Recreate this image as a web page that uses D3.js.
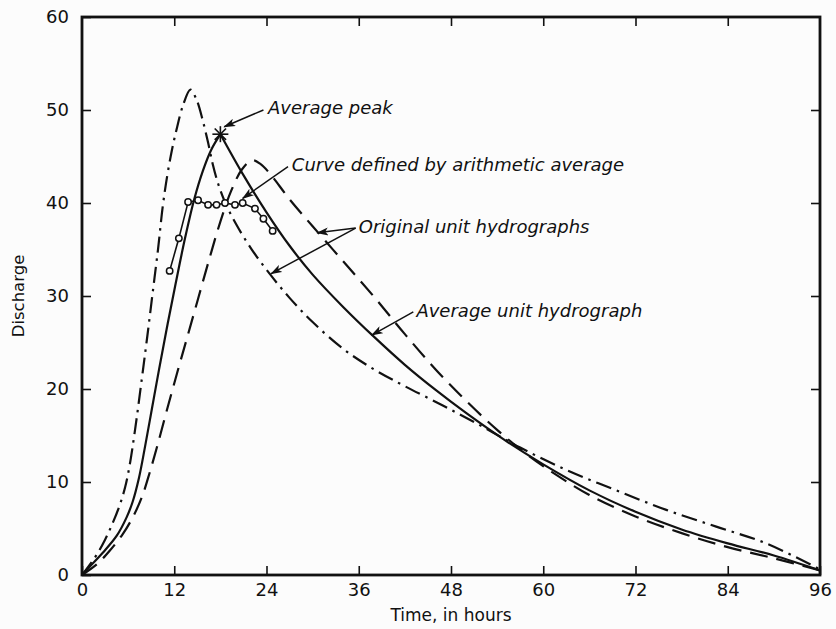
<!DOCTYPE html>
<html>
<head>
<meta charset="utf-8">
<script src="https://cdn.jsdelivr.net/npm/d3@7"></script>
<style>
  body { margin: 0; background: #fcfcfc; }
  svg { display: block; }
  text { fill: #111; }
</style>
</head>
<body>
<div id="chart"></div>
<script>
// time (hours) / discharge
const avgUnit = [[0,0],[1,0.9],[2.7,2.4],[4.5,4.2],[5.8,6.2],[6.6,7.9],[7.4,10.4],[8.2,13.8],[9.1,17.9],[10,22.0],[11,26.4],[12.1,31],
  [13.4,36.2],[14.6,40.4],[15.7,43.4],[16.8,45.7],[18,47.4],
  [21,43.0],[24,39.0],[27,35.4],[30,32.3],[34,28.8],[38,25.6],[42,22.6],[46,19.9],[50,17.4],[55,14.5],[60,11.9],[66,9.1],[72,6.8],
  [78,4.9],[84,3.4],[90,2.1],[96,0.5]];

const origA = [[0,0],[1.7,1.9],[3,3.8],[4,5.6],[4.9,7.5],[5.6,9.4],[6.2,11.8],[6.9,15.6],[7.8,21.2],[8.5,25.7],[9.2,30.4],[9.9,35.1],[10.5,39.6],
  [11.1,43.0],[11.7,45.7],[12.3,47.9],[13.1,50.4],[14.1,52.2],
  [14.9,51.1],[15.7,48.9],[16.4,46.5],[17,44.2],[17.7,42.1],[18.6,40.1],[20,37.8],[22,35.1],[24.4,32.4],[27,29.8],[30,27.2],[34,24.3],
  [38,22.1],[42,20.3],[47,18.2],[52,16.0],[57,13.7],[63,11.3],[69.5,9.1],[76,7.0],[82.5,5.2],[89,3.4],[96,0.6]];

const origB = [[0,0],[2,1.2],[3.6,2.6],[5.3,4.4],[6.6,6.2],[7.8,8.4],[8.8,11.0],[9.8,13.9],[11,17.6],[12.4,21.8],[13.8,25.9],[15.2,30.0],
  [16.6,34.1],[18,38.0],[19.4,41.3],[20.8,43.6],[22.1,44.6],
  [23.2,44.2],[24.4,43.2],[27,40.4],[30,37.5],[34,33.7],[38,29.9],[42,25.9],[46,22.1],[50,18.7],[54,15.6],[58,12.9],[62,10.6],[66,8.6],
  [72,6.3],[78,4.5],[84,3.0],[90,1.8],[96,0.5]];

const arithAvg = [[11.4,32.7],[12.6,36.2],[13.8,40.1],[15.1,40.3],[16.4,39.8],[17.5,39.8],[18.6,40.0],[19.9,39.8],[20.9,40.0],[22.5,39.4],[23.6,38.3],[24.8,37.0]];

const xTicks = [0, 12, 24, 36, 48, 60, 72, 84, 96];
const yTicks = [0, 10, 20, 30, 40, 50, 60];

// label text, where it sits, and where its arrows point (data units)
const notes = [
  { text: 'Average peak', at: [24.2, 50.2], from: [23.6, 50.0], to: [[18.5, 48.2]] },
  { text: 'Curve defined by arithmetic average', at: [27.3, 44.1], from: [26.8, 43.9], to: [[20.9, 40.5]] },
  { text: 'Original unit hydrographs', at: [36.0, 37.4], from: [35.6, 37.3], to: [[30.6, 36.8], [24.6, 32.4]] },
  { text: 'Average unit hydrograph', at: [43.5, 28.4], from: [43.1, 28.3], to: [[37.7, 25.8]] }
];

const width = 836, height = 629;
const margin = { top: 17, right: 16, bottom: 54, left: 82 };

const svg = d3.select('#chart').append('svg')
  .attr('width', width).attr('height', height);

const x = d3.scaleLinear().domain([0, 96]).range([margin.left, width - margin.right]);
const y = d3.scaleLinear().domain([0, 60]).range([height - margin.bottom, margin.top]);

const ink = '#111';
const font = "'DejaVu Sans', sans-serif";

svg.append('defs').append('marker')
  .attr('id', 'arrow')
  .attr('viewBox', '0 0 12 8')
  .attr('refX', 11).attr('refY', 4)
  .attr('markerWidth', 12).attr('markerHeight', 8)
  .attr('markerUnits', 'userSpaceOnUse')
  .attr('orient', 'auto')
  .append('path')
  .attr('d', 'M0,0 L12,4 L0,8 L3,4 Z')
  .attr('fill', ink);

// axes, ticks point inward
function styleAxis(g) {
  g.select('.domain').remove();
  g.selectAll('line').attr('stroke', ink).attr('stroke-width', 1.6);
  g.selectAll('text').attr('font-family', font).attr('font-size', 18).attr('fill', ink);
}

svg.append('g')
  .attr('transform', `translate(0,${y(0)})`)
  .call(d3.axisBottom(x).tickValues(xTicks).tickSizeInner(-9).tickSizeOuter(0).tickPadding(8))
  .call(styleAxis);

svg.append('g')
  .attr('transform', `translate(${x(0)},0)`)
  .call(d3.axisLeft(y).tickValues(yTicks).tickSizeInner(-9).tickSizeOuter(0).tickPadding(13))
  .call(styleAxis);

svg.append('g')
  .attr('transform', `translate(0,${y(60)})`)
  .call(d3.axisTop(x).tickValues(xTicks.slice(1, -1)).tickSizeInner(-9).tickSizeOuter(0).tickFormat(''))
  .call(styleAxis);

svg.append('g')
  .attr('transform', `translate(${x(96)},0)`)
  .call(d3.axisRight(y).tickValues(yTicks.slice(1, -1)).tickSizeInner(-9).tickSizeOuter(0).tickFormat(''))
  .call(styleAxis);

svg.append('rect')
  .attr('x', x(0)).attr('y', y(60))
  .attr('width', x(96) - x(0)).attr('height', y(0) - y(60))
  .attr('fill', 'none').attr('stroke', ink).attr('stroke-width', 2.8);

svg.append('text')
  .attr('x', (x(0) + x(96)) / 2).attr('y', 621)
  .attr('text-anchor', 'middle')
  .attr('font-family', font).attr('font-size', 17)
  .text('Time, in hours');

svg.append('text')
  .attr('transform', `translate(24,${(y(0) + y(60)) / 2}) rotate(-90)`)
  .attr('text-anchor', 'middle')
  .attr('font-family', font).attr('font-size', 16.5)
  .text('Discharge');

// curves
const line = d3.line().x(d => x(d[0])).y(d => y(d[1])).curve(d3.curveCatmullRom.alpha(0.5));

function drawCurve(data, dash, sharpPeak) {
  let parts = [data];
  if (sharpPeak) {
    const i = d3.maxIndex(data, d => d[1]);
    parts = [data.slice(0, i + 1), data.slice(i)];
  }
  parts.forEach(p => {
    svg.append('path')
      .datum(p)
      .attr('d', line)
      .attr('fill', 'none')
      .attr('stroke', ink)
      .attr('stroke-width', 2.2)
      .attr('stroke-dasharray', dash);
  });
}

drawCurve(origA, '16,6,2.5,6', false);
drawCurve(origB, '18,9', false);
drawCurve(avgUnit, null, true);

// arithmetic average with open circles
svg.append('path')
  .datum(arithAvg)
  .attr('d', d3.line().x(d => x(d[0])).y(d => y(d[1])))
  .attr('fill', 'none').attr('stroke', ink).attr('stroke-width', 1.6);

svg.selectAll('.pt')
  .data(arithAvg)
  .join('circle')
  .attr('class', 'pt')
  .attr('cx', d => x(d[0])).attr('cy', d => y(d[1]))
  .attr('r', 3.2)
  .attr('fill', '#fcfcfc').attr('stroke', ink).attr('stroke-width', 1.5);

// star at the average peak
const peak = avgUnit[d3.maxIndex(avgUnit, d => d[1])];
const star = svg.append('g').attr('transform', `translate(${x(peak[0])},${y(peak[1])})`);
[0, 45, 90, 135].forEach(a => {
  star.append('line')
    .attr('x1', -8).attr('x2', 8)
    .attr('transform', `rotate(${a})`)
    .attr('stroke', ink).attr('stroke-width', 1.6);
});

// annotations
notes.forEach(n => {
  svg.append('text')
    .attr('x', x(n.at[0])).attr('y', y(n.at[1]))
    .attr('dy', '0.35em')
    .attr('font-family', font).attr('font-size', 18)
    .attr('font-style', 'italic')
    .text(n.text);
  n.to.forEach(t => {
    svg.append('line')
      .attr('x1', x(n.from[0])).attr('y1', y(n.from[1]))
      .attr('x2', x(t[0])).attr('y2', y(t[1]))
      .attr('stroke', ink).attr('stroke-width', 1.5)
      .attr('marker-end', 'url(#arrow)');
  });
});
</script>
</body>
</html>
